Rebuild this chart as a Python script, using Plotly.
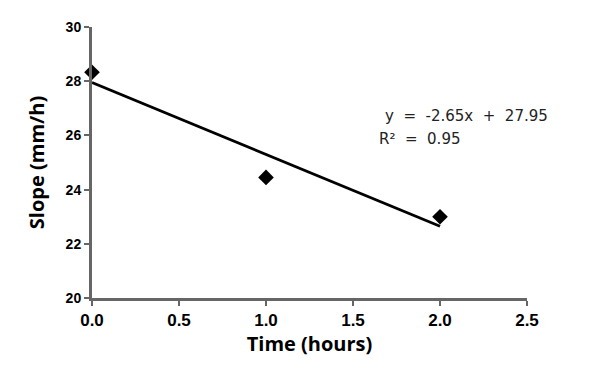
import plotly.graph_objects as go

time_h = [0.0, 1.0, 2.0]
slope_mmh = [28.33, 24.45, 23.0]
fit_x = [0.0, 2.0]
fit_slope = -2.65
fit_intercept = 27.95
fit_y = [fit_slope * x + fit_intercept for x in fit_x]
eq_text = "y \u00a0=\u00a0 -2.65x \u00a0+\u00a0 27.95"
r2_text = "R² \u00a0=\u00a0 0.95"
x_ticks = [0, 0.5, 1.0, 1.5, 2.0, 2.5]
x_tick_labels = ["0.0", "0.5", "1.0", "1.5", "2.0", "2.5"]
y_ticks = [20, 22, 24, 26, 28, 30]
y_tick_labels = ["20", "22", "24", "26", "28", "30"]

fig = go.Figure()
fig.add_trace(go.Scatter(x=fit_x, y=fit_y, mode="lines",
                         line=dict(color="black", width=2.8), cliponaxis=False,
                         showlegend=False))
fig.add_trace(go.Scatter(x=time_h, y=slope_mmh, mode="markers",
                         marker=dict(symbol="diamond", size=12, color="black"),
                         cliponaxis=False, showlegend=False))

axis_common = dict(showline=True, linecolor="#666666", linewidth=3,
                   ticks="outside", tickcolor="#666666", tickwidth=2, ticklen=5,
                   showgrid=False, zeroline=False)

fig.update_xaxes(range=[0, 2.5], tickvals=x_ticks,
                 ticktext=["<b>%s</b>" % t for t in x_tick_labels],
                 tickfont=dict(family="Liberation Sans", size=17, color="black"),
                 title=dict(text="<b>Time (hours)</b>", standoff=5,
                            font=dict(family="Open Sans", size=20, color="black")),
                 **axis_common)
fig.update_yaxes(range=[20, 30], tickvals=y_ticks,
                 ticktext=["<b>%s</b>" % t for t in y_tick_labels],
                 tickfont=dict(family="Liberation Sans", size=14, color="black"),
                 title=dict(text="<b>Slope (mm/h)</b>", standoff=16,
                            font=dict(family="Open Sans", size=20, color="black")),
                 **axis_common)

fig.add_annotation(x=1.67, y=26.7, xref="x", yref="y", text=eq_text, showarrow=False,
                   xanchor="left", font=dict(family="DejaVu Sans", size=15, color="#222222"))
fig.add_annotation(x=1.64, y=25.85, xref="x", yref="y", text=r2_text, showarrow=False,
                   xanchor="left", font=dict(family="DejaVu Sans", size=15, color="#222222"))

fig.update_layout(width=606, height=370, margin=dict(l=84, r=87, t=19, b=80),
                  plot_bgcolor="white", paper_bgcolor="white")
fig.write_html("out.html")
